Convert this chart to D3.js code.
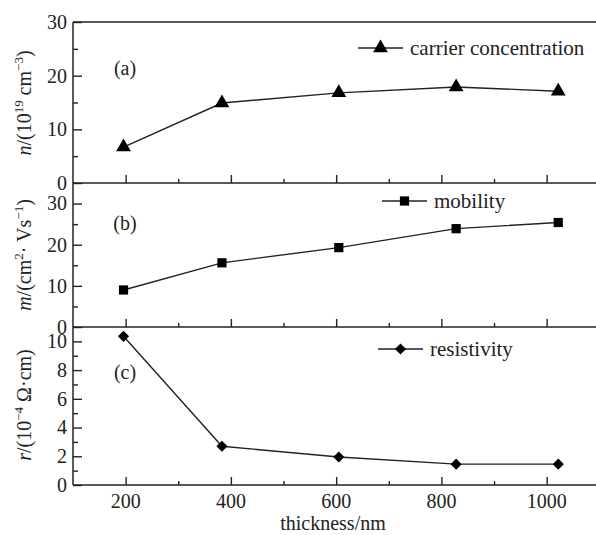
<!DOCTYPE html>
<html>
<head>
<meta charset="utf-8">
<script src="https://cdn.jsdelivr.net/npm/d3@7"></script>
<style>
  body { margin: 0; background: #fff; }
</style>
</head>
<body>
<div id="chart"></div>
<script>
// thickness (nm) for each sample
const thickness = [196, 383, 605, 828, 1022]
// panel (a) carrier concentration, 10^19 cm^-3
const carrier = [6.7, 14.9, 16.8, 17.9, 17.1]
// panel (b) mobility, cm^2/(V s)
const mobility = [9.0, 15.6, 19.3, 23.9, 25.4]
// panel (c) resistivity, 10^-4 ohm cm
const resistivity = [10.35, 2.7, 1.95, 1.45, 1.45]

const xTicks = [200, 400, 600, 800, 1000]
const xMinor = [300, 500, 700, 900]

const width = 596
const height = 535
const left = 73
const ink = '#222'
const serif = 'Liberation Serif'

const svg = d3.select('#chart')
  .append('svg')
  .attr('width', width)
  .attr('height', height)
  .attr('font-family', serif)

const x = d3.scaleLinear().domain([100, 1100]).range([left, 599.3])

const panels = [
  { key: 'a', values: carrier, domain: [0, 30], range: [183, 22], major: [0, 10, 20, 30], minor: [5, 15, 25],
    symbol: d3.symbolTriangle, size: 95, rot: 0, legendY: 48, legendX: 358, label: 'carrier concentration', tagY: 75 },
  { key: 'b', values: mobility, domain: [0, 35], range: [327, 183], major: [0, 10, 20, 30], minor: [5, 15, 25],
    symbol: d3.symbolSquare, size: 85, rot: 0, legendY: 201, legendX: 382, label: 'mobility', tagY: 230 },
  { key: 'c', values: resistivity, domain: [0, 11], range: [485, 327], major: [0, 2, 4, 6, 8, 10], minor: [1, 3, 5, 7, 9],
    symbol: d3.symbolSquare, size: 62, rot: 45, legendY: 349, legendX: 378, label: 'resistivity', tagY: 379 }
]

panels.forEach(p => {
  const y = d3.scaleLinear().domain(p.domain).range(p.range)
  const g = svg.append('g')

  // left axis, ticks pointing inward
  g.append('g')
    .attr('transform', `translate(${left},0)`)
    .call(d3.axisRight(y).tickValues(p.minor).tickSize(5).tickFormat(''))
    .call(s => s.select('.domain').remove())
  const ya = g.append('g')
    .attr('transform', `translate(${left},0)`)
    .call(d3.axisRight(y).tickValues(p.major).tickSize(9).tickFormat(d3.format('d')))
  ya.select('.domain').remove()
  ya.attr('font-family', serif)
  ya.selectAll('text')
    .attr('x', -6)
    .attr('text-anchor', 'end')
    .attr('font-size', 20)
    .attr('fill', ink)

  // bottom axis of this panel, ticks pointing up
  g.append('g')
    .attr('transform', `translate(0,${p.range[0]})`)
    .call(d3.axisTop(x).tickValues(xTicks).tickSize(8).tickFormat(''))
    .call(s => s.select('.domain').remove())
  g.append('g')
    .attr('transform', `translate(0,${p.range[0]})`)
    .call(d3.axisTop(x).tickValues(xMinor).tickSize(4).tickFormat(''))
    .call(s => s.select('.domain').remove())
  g.append('line')
    .attr('x1', left).attr('x2', width)
    .attr('y1', p.range[0]).attr('y2', p.range[0])
    .attr('stroke', ink).attr('stroke-width', 1.5)

  g.selectAll('.tick line').attr('stroke', ink).attr('stroke-width', 1.4)

  // series
  const line = d3.line().x((d, i) => x(thickness[i])).y(d => y(d))
  g.append('path')
    .datum(p.values)
    .attr('d', line)
    .attr('fill', 'none')
    .attr('stroke', ink)
    .attr('stroke-width', 1.4)
  g.selectAll('.pt')
    .data(p.values)
    .enter()
    .append('path')
    .attr('d', d3.symbol().type(p.symbol).size(p.size))
    .attr('transform', (d, i) => `translate(${x(thickness[i])},${y(d)}) rotate(${p.rot})`)
    .attr('fill', '#000')

  // legend
  g.append('line')
    .attr('x1', p.legendX).attr('x2', p.legendX + 45)
    .attr('y1', p.legendY).attr('y2', p.legendY)
    .attr('stroke', ink).attr('stroke-width', 1.4)
  g.append('path')
    .attr('d', d3.symbol().type(p.symbol).size(p.size))
    .attr('transform', `translate(${p.legendX + 22.5},${p.legendY}) rotate(${p.rot})`)
    .attr('fill', '#000')
  g.append('text')
    .attr('x', p.legendX + 52)
    .attr('y', p.legendY + 7)
    .attr('font-size', 21)
    .attr('fill', ink)
    .text(p.label)

  // panel tag
  g.append('text')
    .attr('x', 125)
    .attr('y', p.tagY)
    .attr('text-anchor', 'middle')
    .attr('font-size', 20)
    .attr('fill', ink)
    .text(`(${p.key})`)
})

// frame: top and left
svg.append('line')
  .attr('x1', left).attr('x2', width).attr('y1', 22).attr('y2', 22)
  .attr('stroke', ink).attr('stroke-width', 1.5)
svg.append('line')
  .attr('x1', left).attr('x2', left).attr('y1', 22).attr('y2', 485)
  .attr('stroke', ink).attr('stroke-width', 1.5)

// x tick labels
svg.append('g')
  .selectAll('text')
  .data(xTicks)
  .enter()
  .append('text')
  .attr('x', d => x(d))
  .attr('y', 508)
  .attr('text-anchor', 'middle')
  .attr('font-size', 20)
  .attr('fill', ink)
  .text(d => d)

svg.append('text')
  .attr('x', 333)
  .attr('y', 530)
  .attr('text-anchor', 'middle')
  .attr('font-size', 20)
  .attr('fill', ink)
  .text('thickness/nm')

// y axis titles
const yTitle = (cx, cy, build) => {
  const t = svg.append('text')
    .attr('transform', `translate(${cx},${cy}) rotate(-90)`)
    .attr('text-anchor', 'middle')
    .attr('font-size', 20)
    .attr('fill', ink)
  build(t)
}

yTitle(31, 103, t => {
  t.append('tspan').attr('font-style', 'italic').text('n')
  t.append('tspan').text('/(10')
  t.append('tspan').attr('font-size', 13).attr('dy', -8).text('19')
  t.append('tspan').attr('dy', 8).text(' cm')
  t.append('tspan').attr('font-size', 13).attr('dy', -8).text('−3')
  t.append('tspan').attr('dy', 8).text(')')
})

yTitle(31, 255, t => {
  t.append('tspan').attr('font-style', 'italic').text('m')
  t.append('tspan').text('/(cm')
  t.append('tspan').attr('font-size', 13).attr('dy', -8).text('2')
  t.append('tspan').attr('dy', 8).text('· Vs')
  t.append('tspan').attr('font-size', 13).attr('dy', -8).text('−1')
  t.append('tspan').attr('dy', 8).text(')')
})

yTitle(31, 405, t => {
  t.append('tspan').attr('font-style', 'italic').text('r')
  t.append('tspan').text('/(10')
  t.append('tspan').attr('font-size', 13).attr('dy', -8).text('−4')
  t.append('tspan').attr('dy', 8).text(' Ω·cm)')
})
</script>
</body>
</html>
